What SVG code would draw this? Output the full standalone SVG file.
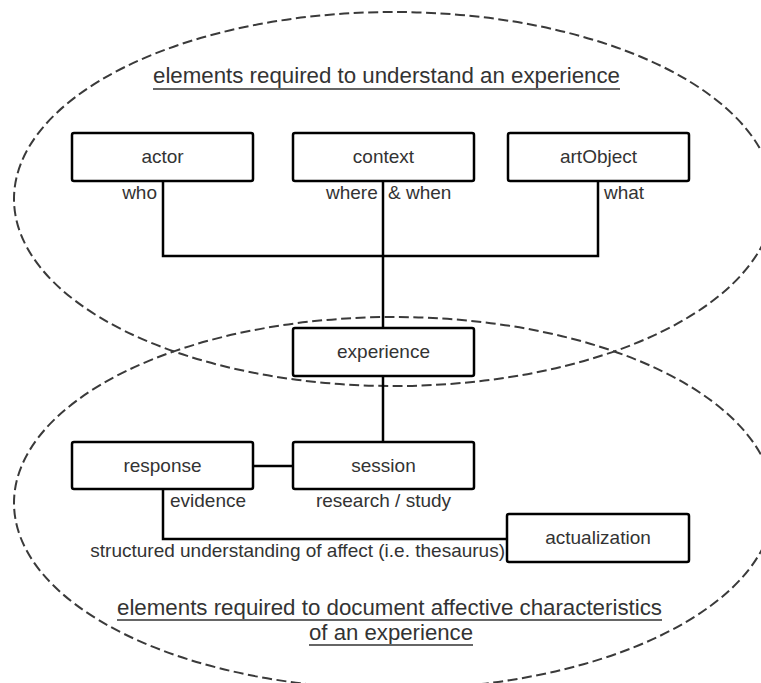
<svg xmlns="http://www.w3.org/2000/svg" width="761" height="683" viewBox="0 0 761 683">
  <style>
    .region { fill: none; stroke: #3a3a3a; stroke-width: 2; stroke-dasharray: 10 4.5; }
    .box { fill: #ffffff; stroke: #000000; stroke-width: 2.5; }
    .conn { fill: none; stroke: #000000; stroke-width: 2.5; stroke-linecap: square; }
    .lbl { font-family: "Liberation Sans", Arial, Helvetica, sans-serif; font-size: 19px; fill: #333333; }
    .node-lbl { font-family: "Liberation Sans", Arial, Helvetica, sans-serif; font-size: 19px; fill: #333333; text-anchor: middle; }
    .title { font-family: "Liberation Sans", Arial, Helvetica, sans-serif; font-size: 22px; fill: #333333; text-anchor: middle; }
    .uline { stroke: #666666; stroke-width: 2; }
  </style>
  <rect x="0" y="0" width="761" height="683" fill="#ffffff"/>

  <g id="regions">
    <ellipse id="region-understand" class="region" cx="394" cy="199" rx="380" ry="187"/>
    <ellipse id="region-document" class="region" cx="394" cy="503" rx="380" ry="186"/>
  </g>

  <g id="titles">
    <text class="title" x="386.5" y="83" textLength="467" lengthAdjust="spacingAndGlyphs">elements required to understand an experience</text>
    <line class="uline" x1="153" y1="89" x2="620" y2="89"/>
    <text class="title" x="389.5" y="615" textLength="545" lengthAdjust="spacingAndGlyphs">elements required to document affective characteristics</text>
    <line class="uline" x1="117" y1="620" x2="662" y2="620"/>
    <text class="title" x="391" y="640" textLength="164" lengthAdjust="spacingAndGlyphs">of an experience</text>
    <line class="uline" x1="309" y1="645" x2="473" y2="645"/>
  </g>

  <g id="connectors">
    <polyline class="conn" points="163,181 163,256 598,256 598,181"/>
    <line class="conn" x1="383" y1="181" x2="383" y2="328"/>
    <line class="conn" x1="383" y1="376" x2="383" y2="442"/>
    <line class="conn" x1="253" y1="466" x2="293" y2="466"/>
    <polyline class="conn" points="163,489 163,539 507,539"/>
  </g>

  <g id="connector-labels">
    <text class="lbl" x="157" y="199" text-anchor="end">who</text>
    <text class="lbl" y="199"><tspan x="326">where</tspan><tspan x="388">&amp; when</tspan></text>
    <text class="lbl" x="604" y="199">what</text>
    <text class="lbl" x="170" y="507">evidence</text>
    <text class="lbl" x="383.5" y="507" text-anchor="middle">research / study</text>
    <text class="lbl" x="505" y="557" text-anchor="end">structured understanding of affect (i.e. thesaurus)</text>
  </g>

  <g id="actor">
    <rect class="box" x="72" y="133" width="181" height="48" rx="2"/>
    <text class="node-lbl" x="162.5" y="163">actor</text>
  </g>
  <g id="context">
    <rect class="box" x="293" y="133" width="181" height="48" rx="2"/>
    <text class="node-lbl" x="383.5" y="163">context</text>
  </g>
  <g id="artObject">
    <rect class="box" x="508" y="133" width="181" height="48" rx="2"/>
    <text class="node-lbl" x="598.5" y="163">artObject</text>
  </g>
  <g id="experience">
    <rect class="box" x="293" y="328" width="181" height="48" rx="2"/>
    <text class="node-lbl" x="383.5" y="358">experience</text>
  </g>
  <g id="response">
    <rect class="box" x="72" y="442" width="181" height="47" rx="2"/>
    <text class="node-lbl" x="162.5" y="471.5">response</text>
  </g>
  <g id="session">
    <rect class="box" x="293" y="442" width="181" height="47" rx="2"/>
    <text class="node-lbl" x="383.5" y="471.5">session</text>
  </g>
  <g id="actualization">
    <rect class="box" x="507" y="514" width="182" height="48" rx="2"/>
    <text class="node-lbl" x="598" y="544">actualization</text>
  </g>
</svg>
